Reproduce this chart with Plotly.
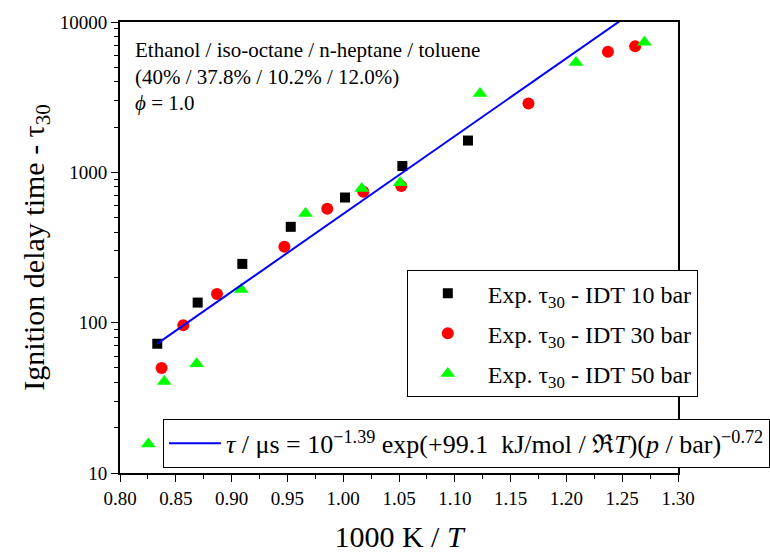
import numpy as np
import plotly.graph_objects as go

# ---- data ----
x10 = [0.8334, 0.8696, 0.9096, 0.9530, 1.0016, 1.0530, 1.1118]
y10 = [72.4, 136, 246, 434, 680, 1102, 1627]

x30 = [0.8373, 0.8567, 0.8869, 0.9473, 0.9857, 1.0180, 1.0520, 1.1660, 1.2372, 1.2616]
y30 = [49.9, 96, 155, 320, 573, 743, 811, 2870, 6341, 6886]

x50 = [0.8254, 0.8397, 0.8687, 0.9087, 0.9662, 1.0166, 1.0510, 1.1226, 1.2086, 1.2699]
y50 = [15.6, 40.6, 53.3, 166, 533, 782, 853, 3344, 5379, 7325]

# correlation parameters (from the legend)
log10_A = -1.39
Ea_kJ = 99.1
p_exp = -0.72
p_fit = 30.0
fit_x_range = [0.8334, 1.2496]

names = ["Exp. τ<sub>30</sub> - IDT 10 bar",
         "Exp. τ<sub>30</sub> - IDT 30 bar",
         "Exp. τ<sub>30</sub> - IDT 50 bar"]
fit_name = ("<i>τ</i> / μs = 10<sup>−1.39</sup> exp(+99.1  kJ/mol / ℜ<i>T</i>)"
            "(<i>p</i> / bar)<sup>−0.72</sup>")

xf = np.linspace(fit_x_range[0], fit_x_range[1], 100)
yf = 10 ** log10_A * np.exp(Ea_kJ * 1000 * xf / (8.314 * 1000)) * p_fit ** p_exp

FONT = "Liberation Serif"

fig = go.Figure()
fig.add_trace(go.Scatter(x=x10, y=y10, mode="markers", name=names[0], legendgroup="a",
                         marker=dict(symbol="square", size=10, color="black")))
fig.add_trace(go.Scatter(x=x30, y=y30, mode="markers", name=names[1], legendgroup="b",
                         marker=dict(symbol="circle", size=12, color="#FF0000")))
fig.add_trace(go.Scatter(x=x50, y=y50, mode="markers", name=names[2], legendgroup="c",
                         marker=dict(symbol="triangle-up", size=13, color="#00FF00")))
fig.add_trace(go.Scatter(x=xf, y=yf, mode="lines", name=fit_name, legend="legend2",
                         line=dict(color="#0000FF", width=2)))

minor_vals = [m * 10 ** d for d in range(1, 4) for m in range(2, 10)]

fig.update_layout(
    width=770, height=554,
    margin=dict(l=120, r=92, t=22, b=81, autoexpand=False),
    paper_bgcolor="white", plot_bgcolor="white",
    font=dict(family=FONT, size=19, color="black"),
    showlegend=True,
    legend=dict(x=0.514, y=0.45, xanchor="left", yanchor="top",
                bgcolor="white", bordercolor="black", borderwidth=1,
                font=dict(family=FONT, size=24), tracegroupgap=6,
                traceorder="grouped", itemwidth=70),
    legend2=dict(x=0.077, y=0.12, xanchor="left", yanchor="top",
                 bgcolor="white", bordercolor="black", borderwidth=1,
                 font=dict(family=FONT, size=26), itemwidth=52),
    xaxis=dict(range=[0.8, 1.3], dtick=0.05, tick0=0.8, tickformat=".2f",
               ticks="outside", ticklen=7, tickwidth=1, tickcolor="black",
               showline=True, linecolor="black", linewidth=2, mirror=True,
               showgrid=False, zeroline=False,
               minor=dict(ticks="outside", ticklen=4, dtick=0.025, tick0=0.8,
                          tickcolor="black", showgrid=False),
               tickfont=dict(family=FONT, size=19),
               title=dict(text="1000 K / <i>T</i>", font=dict(family=FONT, size=30),
                          standoff=18)),
    yaxis=dict(type="log", range=[1, 4],
               tickvals=[10, 100, 1000, 10000], ticktext=["10", "100", "1000", "10000"],
               ticks="outside", ticklen=7, tickwidth=1, tickcolor="black",
               showline=True, linecolor="black", linewidth=2, mirror=True,
               showgrid=False, zeroline=False,
               minor=dict(ticks="outside", ticklen=4, tickvals=minor_vals,
                          tickcolor="black", showgrid=False),
               tickfont=dict(family=FONT, size=19),
               title=dict(text="Ignition delay time - τ<sub>30</sub>",
                          font=dict(family=FONT, size=30), standoff=6)),
)

ann = ["Ethanol / iso-octane / n-heptane / toluene",
       "(40% / 37.8% / 10.2% / 12.0%)",
       "<i>ϕ</i> = 1.0"]
ann_y = [0.938, 0.878, 0.820]
for t, yy in zip(ann, ann_y):
    fig.add_annotation(text=t, x=0.023, y=yy, xref="paper", yref="paper",
                       xanchor="left", yanchor="middle", showarrow=False,
                       font=dict(family=FONT, size=21, color="black"))

fig.write_html("out.html")
